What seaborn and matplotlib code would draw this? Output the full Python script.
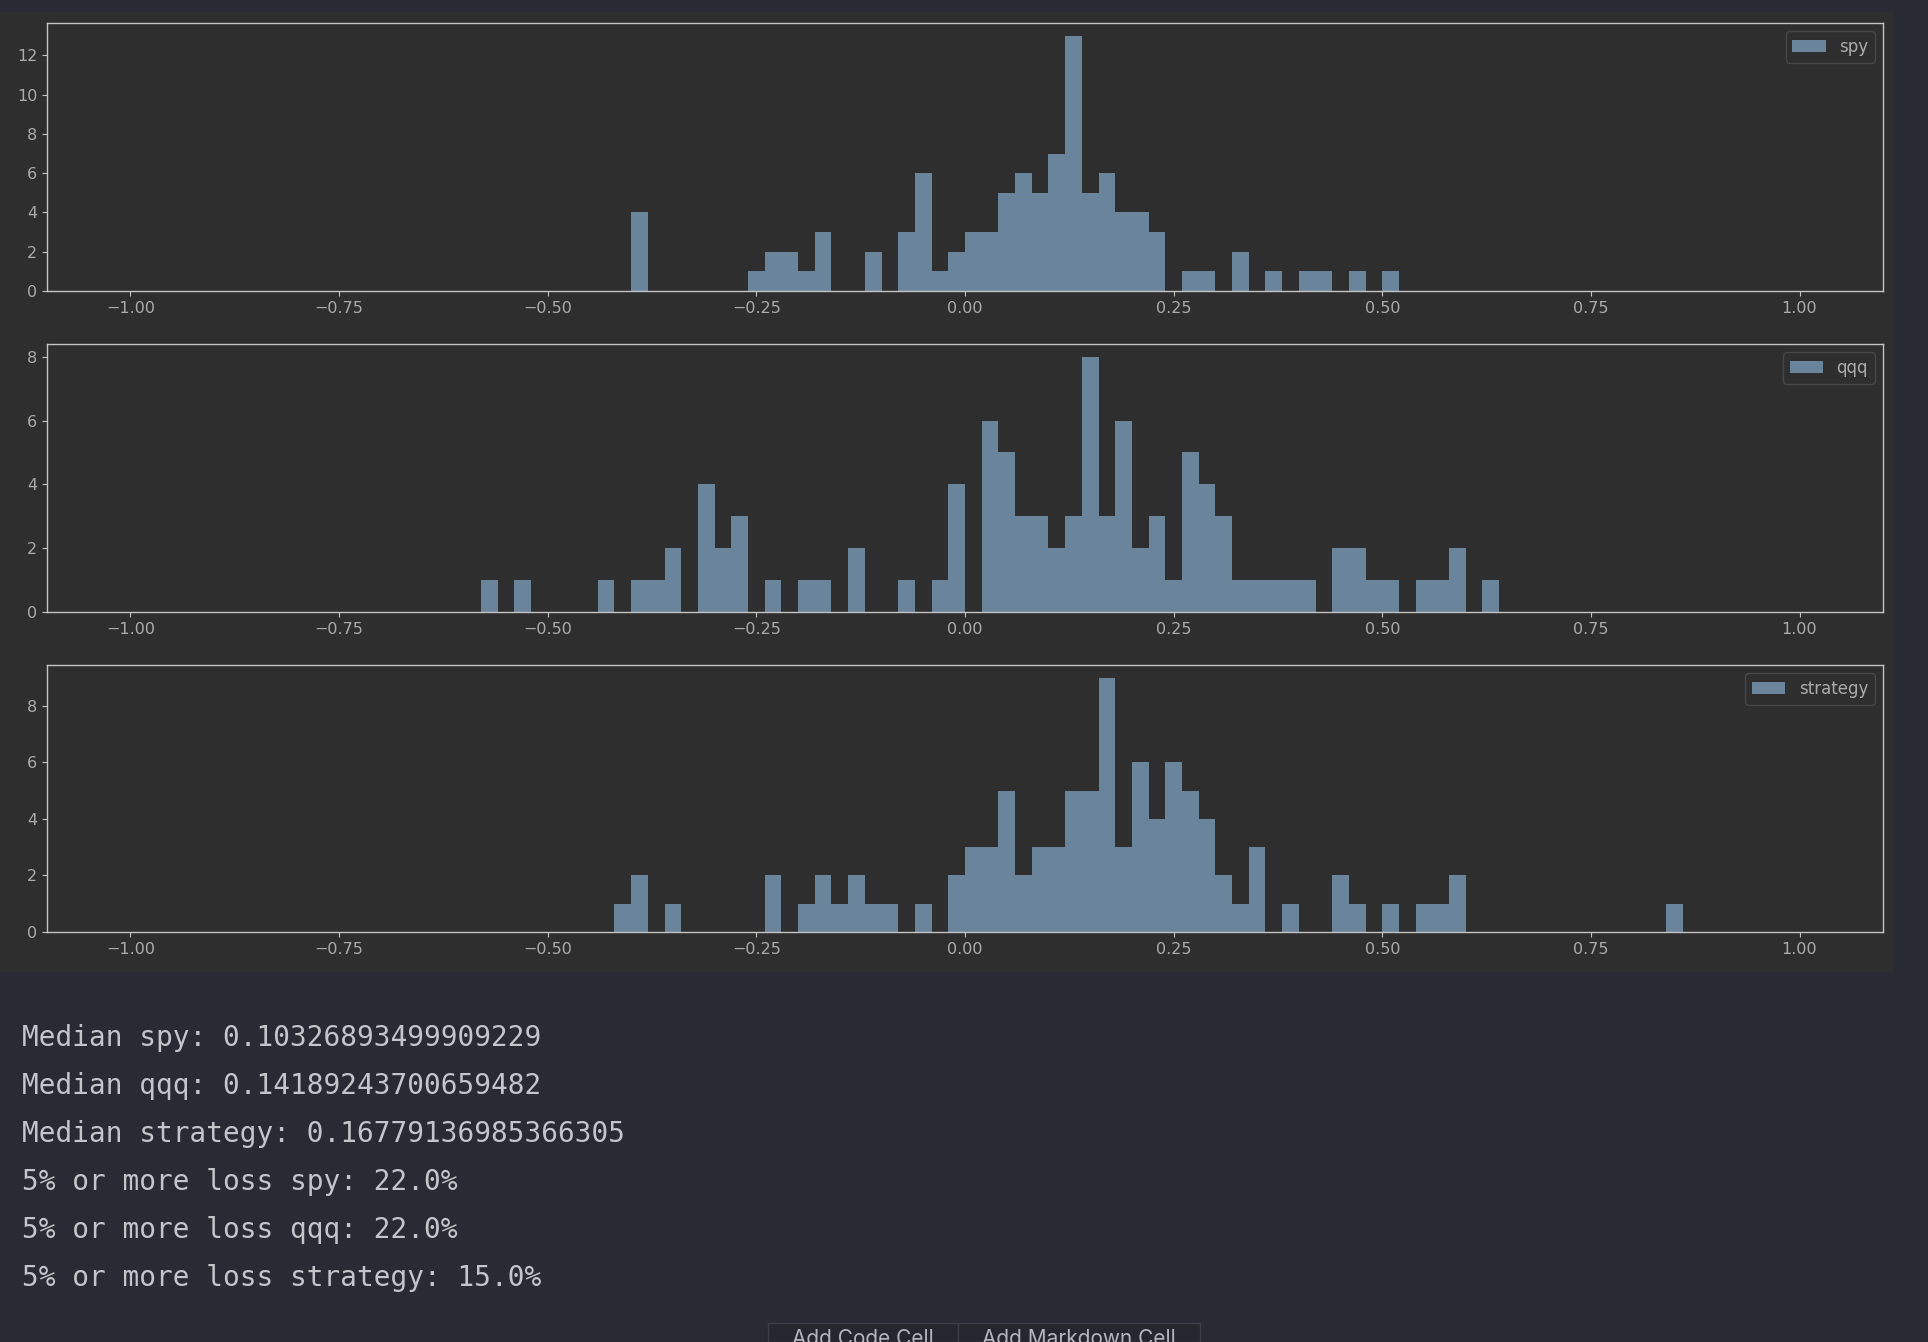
import numpy as np
import pandas as pd
import matplotlib
matplotlib.use("Agg")
import matplotlib.pyplot as plt
from matplotlib.patches import Rectangle, Patch
from matplotlib.ticker import MultipleLocator
import seaborn as sns

# ---------------- data (histogram bins of width 0.02 on [-1, 1]) ----------------
bin_width = 0.02
spy_left = [-0.40, -0.26, -0.24, -0.22, -0.20, -0.18, -0.12, -0.08, -0.06, -0.04, -0.02,
            0.00, 0.02, 0.04, 0.06, 0.08, 0.10, 0.12, 0.14, 0.16, 0.18, 0.20, 0.22,
            0.26, 0.28, 0.32, 0.36, 0.40, 0.42, 0.46, 0.50]
spy_counts = [4, 1, 2, 2, 1, 3, 2, 3, 6, 1, 2,
              3, 3, 5, 6, 5, 7, 13, 5, 6, 4, 4, 3,
              1, 1, 2, 1, 1, 1, 1, 1]

qqq_left = [-0.58, -0.54, -0.44, -0.40, -0.38, -0.36, -0.32, -0.30, -0.28, -0.24, -0.20,
            -0.18, -0.14, -0.08, -0.04, -0.02,
            0.02, 0.04, 0.06, 0.08, 0.10, 0.12, 0.14, 0.16, 0.18, 0.20, 0.22, 0.24,
            0.26, 0.28, 0.30, 0.32, 0.34, 0.36, 0.38, 0.40,
            0.44, 0.46, 0.48, 0.50, 0.54, 0.56, 0.58, 0.62]
qqq_counts = [1, 1, 1, 1, 1, 2, 4, 2, 3, 1, 1,
              1, 2, 1, 1, 4,
              6, 5, 3, 3, 2, 3, 8, 3, 6, 2, 3, 1,
              5, 4, 3, 1, 1, 1, 1, 1,
              2, 2, 1, 1, 1, 1, 2, 1]

strategy_left = [-0.42, -0.40, -0.36, -0.24, -0.20, -0.18, -0.16, -0.14, -0.12, -0.10,
                 -0.06, -0.02,
                 0.00, 0.02, 0.04, 0.06, 0.08, 0.10, 0.12, 0.14, 0.16, 0.18, 0.20, 0.22,
                 0.24, 0.26, 0.28, 0.30, 0.32, 0.34,
                 0.38, 0.44, 0.46, 0.50, 0.54, 0.56, 0.58, 0.84]
strategy_counts = [1, 2, 1, 2, 1, 2, 1, 2, 1, 1,
                   1, 2,
                   3, 3, 5, 2, 3, 3, 5, 5, 9, 3, 6, 4,
                   6, 5, 4, 2, 1, 3,
                   1, 2, 1, 1, 1, 1, 2, 1]

series_names = ["spy", "qqq", "strategy"]
x_ticks = [-1.00, -0.75, -0.50, -0.25, 0.00, 0.25, 0.50, 0.75, 1.00]

output_lines = [
    "Median spy: 0.10326893499909229",
    "Median qqq: 0.14189243700659482",
    "Median strategy: 0.16779136985366305",
    "5% or more loss spy: 22.0%",
    "5% or more loss qqq: 22.0%",
    "5% or more loss strategy: 15.0%",
]
button_labels = ["Add Code Cell", "Add Markdown Cell"]

# ---------------- styling ----------------
W, H = 1928, 1342
NB_BG = "#282b33"
FIG_BG = "#2e2e2e"
BAR = "#6a849b"
TICK = "#ababab"
SPINE = "#c4c4c4"

sns.set_theme(style="dark")
plt.rcParams["font.family"] = ["DejaVu Sans"]
plt.rcParams["axes.unicode_minus"] = True

fig = plt.figure(figsize=(W / 100, H / 100), dpi=100, facecolor=NB_BG)

# output-area background behind the plot
fig.patches.append(Rectangle((0, 1 - 972 / H), 1893 / W, (972 - 12) / H,
                             transform=fig.transFigure, facecolor=FIG_BG,
                             edgecolor="none", zorder=-5))

axes_px = [(23, 291), (344, 612), (665, 932)]
data_sets = [(spy_left, spy_counts), (qqq_left, qqq_counts), (strategy_left, strategy_counts)]

for (top, bot), name, (lefts, counts) in zip(axes_px, series_names, data_sets):
    ax = fig.add_axes([47 / W, 1 - bot / H, (1883 - 47) / W, (bot - top) / H])
    ax.set_zorder(2)
    df = pd.DataFrame({"ret": np.array(lefts, dtype=float) + bin_width / 2,
                       "n": np.array(counts, dtype=float)})
    sns.histplot(data=df, x="ret", weights="n", binwidth=bin_width, binrange=(-1, 1),
                 ax=ax, color=BAR, alpha=1.0, linewidth=0, edgecolor=BAR)
    ax.set_facecolor(FIG_BG)
    ax.set_xlabel("")
    ax.set_ylabel("")
    ax.set_xlim(-1.1, 1.1)
    ax.set_ylim(0, max(counts) * 1.05)
    ax.set_xticks(x_ticks)
    ax.yaxis.set_major_locator(MultipleLocator(2))
    ax.grid(False)
    for s in ax.spines.values():
        s.set_visible(True)
        s.set_color(SPINE)
        s.set_linewidth(1.0)
    ax.tick_params(axis="both", which="major", colors=SPINE, labelcolor=TICK,
                   labelsize=11.5, length=3.5, width=0.8, bottom=True, left=True)
    leg = ax.legend(handles=[Patch(facecolor=BAR, edgecolor="none", label=name)],
                    loc="upper right", fontsize=12, frameon=True, fancybox=True)
    leg.get_frame().set_facecolor(FIG_BG)
    leg.get_frame().set_edgecolor("#474747")
    leg.get_frame().set_alpha(1.0)
    for t in leg.get_texts():
        t.set_color(TICK)

# printed output lines
for i, line in enumerate(output_lines):
    y_px = 1038 + i * 48
    fig.text(22 / W, 1 - y_px / H, line, family="DejaVu Sans Mono", fontsize=20,
             color="#c3c5ca", va="center", ha="left")

# buttons at bottom (partially cut off, as in the reference)
btn_edges = [768, 958, 1200]
for j, lab in enumerate(button_labels):
    x0, x1 = btn_edges[j], btn_edges[j + 1]
    fig.patches.append(Rectangle((x0 / W, 0), (x1 - x0) / W, (1342 - 1323) / H,
                                 transform=fig.transFigure, facecolor="#24272d",
                                 edgecolor="#3c3f47", linewidth=1.0, zorder=1))
    fig.text((x0 + x1) / 2 / W, 1 - 1329 / H, lab, family="Inter", fontsize=15,
             color="#b4b6bb", va="top", ha="center", zorder=2)

fig.savefig("out.png", dpi=100, facecolor=NB_BG)
